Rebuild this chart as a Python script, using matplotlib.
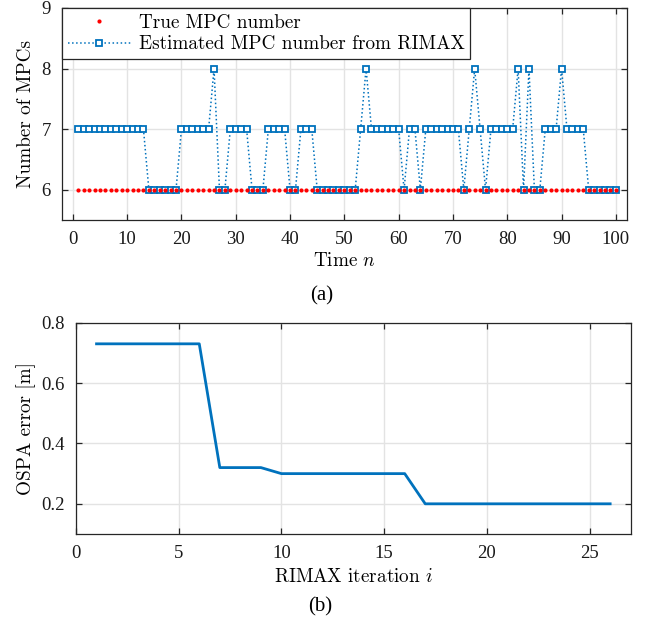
import matplotlib
matplotlib.use('Agg')
import matplotlib.pyplot as plt
import numpy as np

# tick labels / captions in Times-like font, axis labels & legend in CM
plt.rcParams['font.family'] = 'serif'
plt.rcParams['font.serif'] = ['Liberation Serif', 'DejaVu Serif']
plt.rcParams['mathtext.fontset'] = 'cm'
plt.rcParams['font.size'] = 13.5
cm_font = {'family': 'cmr10', 'size': 13.8}

# (a) MPC number over time
time_n = list(range(1, 101))
true_mpc = [6] * 100
est_mpc = [7, 7, 7, 7, 7, 7, 7, 7, 7, 7, 7, 7, 7, 6, 6, 6, 6, 6, 6, 7,
           7, 7, 7, 7, 7, 8, 6, 6, 7, 7, 7, 7, 6, 6, 6, 7, 7, 7, 7, 6,
           6, 7, 7, 7, 6, 6, 6, 6, 6, 6, 6, 6, 7, 8, 7, 7, 7, 7, 7, 7,
           6, 7, 7, 6, 7, 7, 7, 7, 7, 7, 7, 6, 7, 8, 7, 6, 7, 7, 7, 7,
           7, 8, 6, 8, 6, 6, 7, 7, 7, 8, 7, 7, 7, 7, 6, 6, 6, 6, 6, 6]

# (b) OSPA error over RIMAX iterations
iters = list(range(1, 27))
ospa = [0.73, 0.73, 0.73, 0.73, 0.73, 0.73, 0.32, 0.32, 0.32, 0.30,
        0.30, 0.30, 0.30, 0.30, 0.30, 0.30, 0.20, 0.20, 0.20, 0.20,
        0.20, 0.20, 0.20, 0.20, 0.20, 0.20]

blue = '#0072BD'
dark = '#262626'

fig = plt.figure(figsize=(6.57, 6.24), dpi=100)
ax1 = fig.add_axes([62 / 657, 1 - 220 / 624, 564.7 / 657, 212 / 624])
ax2 = fig.add_axes([76 / 657, 1 - 534 / 624, 554.7 / 657, 211.3 / 624])


def style(ax):
    ax.grid(True, color='#e3e3e3', linewidth=1)
    ax.set_axisbelow(True)
    for s in ax.spines.values():
        s.set_color(dark)
        s.set_linewidth(0.9)
    ax.tick_params(direction='in', length=4, width=0.9, color=dark,
                   labelcolor='#1a1a1a', top=True, right=True, pad=8)


ax1.plot(time_n, true_mpc, linestyle='none', marker='o', markersize=3.0,
         color='red', markeredgewidth=0, label='True MPC number', zorder=3)
ax1.plot(time_n, est_mpc, linestyle=':', linewidth=1.1, color=blue,
         marker='s', markersize=3.8, markeredgewidth=1.3, markerfacecolor='white',
         label='Estimated MPC number from RIMAX', zorder=2)
ax1.set_xlim(-2, 102)
ax1.set_ylim(5.5, 9)
ax1.set_xticks(np.arange(0, 101, 10))
ax1.set_yticks([6, 7, 8, 9])
ax1.set_xlabel('Time $n$', labelpad=3, fontdict=cm_font)
ax1.set_ylabel('Number of MPCs', labelpad=5, fontdict=cm_font)
style(ax1)
leg = ax1.legend(loc='upper left', borderaxespad=0, fancybox=False,
                 framealpha=1, edgecolor=dark, handlelength=3.3,
                 handletextpad=0.4, labelspacing=0.2, borderpad=0.3,
                 prop=cm_font)
leg.get_frame().set_linewidth(0.9)

ax2.plot(iters, ospa, color=blue, linewidth=2)
ax2.set_xlim(0, 27)
ax2.set_ylim(0.1, 0.8)
ax2.set_xticks([0, 5, 10, 15, 20, 25])
ax2.set_yticks([0.2, 0.4, 0.6, 0.8])
ax2.set_xlabel('RIMAX iteration $i$', labelpad=4, fontdict=cm_font)
ax2.set_ylabel('OSPA error [m]', labelpad=4, fontdict=cm_font)
style(ax2)

fig.text(322 / 657, 1 - 296 / 624, '(a)', ha='center', va='center', color='black', fontsize=15)
fig.text(320 / 657, 1 - 607 / 624, '(b)', ha='center', va='center', color='black', fontsize=15)

fig.savefig('out.png', dpi=100)
